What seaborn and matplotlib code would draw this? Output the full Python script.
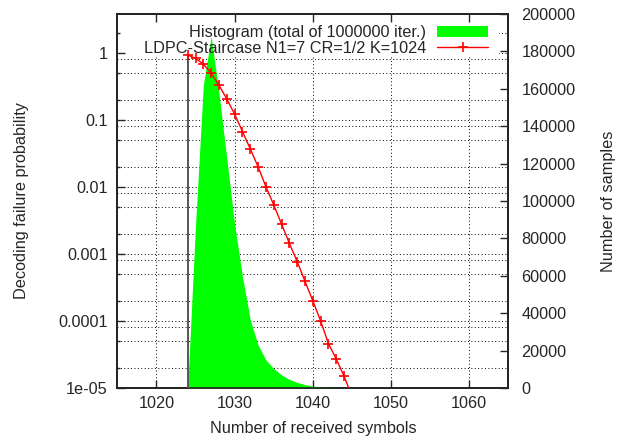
import numpy as np
import pandas as pd
import matplotlib
matplotlib.use("Agg")
import matplotlib.pyplot as plt
import seaborn as sns
from matplotlib.patches import Rectangle, Patch
from matplotlib.lines import Line2D
from matplotlib.ticker import FixedLocator, NullFormatter

# ---------------- data ----------------
symbols = [1024, 1025, 1026, 1027, 1028, 1029, 1030, 1031, 1032, 1033, 1034,
           1035, 1036, 1037, 1038, 1039, 1040, 1041, 1042, 1043, 1044, 1045]
fail_prob = [0.93, 0.83, 0.68, 0.50, 0.33, 0.205, 0.122, 0.067, 0.037, 0.020,
             0.0101, 0.0054, 0.0028, 0.00144, 0.00077, 0.00039, 0.0002, 0.0001,
             4.6e-5, 2.7e-5, 1.5e-5, 7.5e-6]

hist_symbols = [1024, 1025, 1026, 1027, 1028, 1029, 1030, 1031, 1032, 1033, 1034,
                1035, 1036, 1037, 1038, 1039, 1040, 1041, 1042, 1043, 1044, 1045]
hist_counts = [0, 87000, 162000, 188000, 157600, 122700, 87500, 59700, 36400,
               23000, 15000, 10400, 7000, 4600, 3000, 1800, 1000, 550, 300, 150,
               80, 40]

k_value = 1024

x_ticks = [1020, 1030, 1040, 1050, 1060]
left_ticks = [1, 0.1, 0.01, 0.001, 0.0001, 1e-05]
left_labels = ["1", "0.1", "0.01", "0.001", "0.0001", "1e-05"]
right_ticks = [0, 20000, 40000, 60000, 80000, 100000, 120000, 140000, 160000,
               180000, 200000]
right_labels = [str(v) for v in right_ticks]

hist_label = "Histogram (total of 1000000 iter.)"
curve_label = "LDPC-Staircase N1=7 CR=1/2 K=1024"

# ---------------- style ----------------
sns.set_style("white")
plt.rcParams["font.family"] = ["Liberation Sans", "DejaVu Sans"]
FS = 11.7
plt.rcParams["font.size"] = FS

fig = plt.figure(figsize=(6.25, 4.41), dpi=100)
ax = fig.add_axes([0.1877, 0.1202, 0.6256, 0.8481])
ax.set_yscale("log")
ax.set_xlim(1015, 1065)
ax.set_ylim(1e-5, 3.8)

for s in ax.spines.values():
    s.set_linewidth(1.2)
    s.set_color("black")

# grid (drawn on the bottom axes)
grid_kw = dict(color="black", lw=0.7, ls=(0, (1, 2.5)), zorder=0)
for xv in x_ticks:
    ax.axvline(xv, **grid_kw)
for d in left_ticks:
    for m in (0.8, 1, 2, 5):
        v = d * m
        if 1e-5 < v < 3.8:
            ax.axhline(v, **grid_kw)
# blank area behind the key
ax.add_patch(Rectangle((0, 0.886), 0.976, 0.2, transform=ax.transAxes,
                       facecolor="white", edgecolor="none", zorder=0.5))

ax.set_xticks(x_ticks)
ax.set_xticklabels([str(v) for v in x_ticks])
ax.yaxis.set_major_locator(FixedLocator(left_ticks))
ax.set_yticklabels(left_labels)
minor = [d * m for d in left_ticks for m in (2, 5) if d * m < 3.8]
ax.yaxis.set_minor_locator(FixedLocator(minor))
ax.yaxis.set_minor_formatter(NullFormatter())
ax.tick_params(axis="x", which="major", direction="in", length=5.5, width=1,
               top=True, bottom=True, pad=6, labelsize=FS)
ax.tick_params(axis="y", which="major", direction="in", length=5.5, width=1,
               left=True, right=False, pad=7, labelsize=FS)
ax.tick_params(axis="y", which="minor", direction="in", length=2.5, width=1,
               left=True, right=False)

ax.set_xlabel("Number of received symbols", fontsize=FS)
ax.set_ylabel("Decoding failure probability", fontsize=FS)
ax.xaxis.set_label_coords(0.5, -0.1096)
ax.xaxis.label.set_va("center")
ax.yaxis.set_label_coords(-0.2445, 0.5)
ax.yaxis.label.set_va("center")

# ---------------- histogram (right axis) ----------------
ax2 = ax.twinx()
ax2.set_ylim(0, 200000)
hist_df = pd.DataFrame({"symbols": hist_symbols, "count": hist_counts})
sns.lineplot(data=hist_df, x="symbols", y="count", ax=ax2, color="#00ff00",
             linewidth=0, legend=False)
ax2.fill_between(hist_df["symbols"], 0, hist_df["count"], color="#00ff00",
                 linewidth=0, zorder=2)
ax2.set_xlim(1015, 1065)
ax2.set_ylim(0, 200000)
ax2.yaxis.set_major_locator(FixedLocator(right_ticks))
ax2.set_yticklabels(right_labels)
ax2.tick_params(axis="y", direction="in", length=5.5, width=1, right=True,
                left=False, pad=9.5, labelsize=FS)
ax2.set_xlabel("")
ax2.set_ylabel("Number of samples", fontsize=FS)
ax2.yaxis.set_label_position("right")
ax2.yaxis.set_label_coords(1.255, 0.5)
ax2.yaxis.label.set_va("center")
for s in ax2.spines.values():
    s.set_linewidth(1.2)

# ---------------- failure curve (top layer, log axis) ----------------
ax3 = ax.twinx()
ax3.set_yscale("log")
ax3.set_xlim(1015, 1065)
ax3.set_ylim(1e-5, 3.8)
curve_df = pd.DataFrame({"symbols": symbols, "prob": fail_prob})
ax3.vlines(k_value, 1e-5, fail_prob[0], color="#555555", lw=1.4, zorder=2)
sns.lineplot(data=curve_df, x="symbols", y="prob", ax=ax3, color="red",
             linewidth=1.0, marker="+", markersize=7, markeredgewidth=1.2,
             markeredgecolor="red", legend=False, zorder=3)
ax3.set_xlim(1015, 1065)
ax3.set_ylim(1e-5, 3.8)
ax3.axis("off")

handles = [Patch(facecolor="#00ff00", edgecolor="none"),
           Line2D([], [], color="red", lw=1.0, marker="+", markersize=7,
                  markeredgewidth=1.2)]
leg = ax3.legend(handles, [hist_label, curve_label], loc="upper right",
                 bbox_to_anchor=(0.956, 0.979),
                 frameon=False, markerfirst=False, fontsize=FS,
                 handlelength=3.1, handleheight=0.6, handletextpad=0.7,
                 labelspacing=0.05, borderpad=0.2, borderaxespad=0.0)

fig.savefig("out.png", dpi=100)
